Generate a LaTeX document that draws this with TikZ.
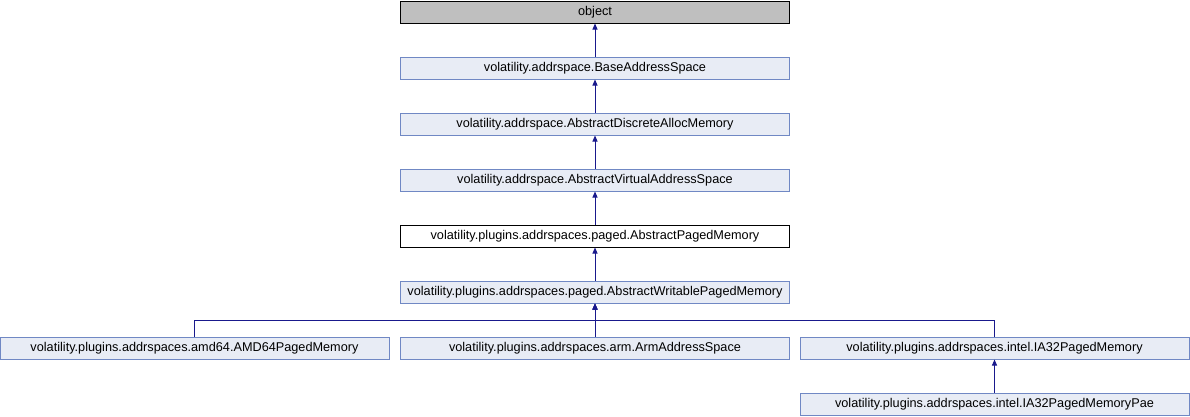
\documentclass[tikz,border=0pt]{standalone}
\usepackage{fontspec}
\setmainfont{Liberation Sans}
\usepackage{xcolor}
\usetikzlibrary{arrows.meta, positioning}

\definecolor{clsfill}{RGB}{232,236,245}
\definecolor{clsdraw}{RGB}{112,136,196}
\definecolor{objfill}{RGB}{191,191,191}
\definecolor{edgeblue}{RGB}{25,25,140}

\begin{document}
\begin{tikzpicture}[x=1pt, y=-1pt,
    cls/.style={draw=clsdraw, fill=clsfill, line width=1pt, minimum width=389pt,
        minimum height=22pt, inner sep=0pt,
        font=\fontsize{12.7}{14}\selectfont},
    rootcls/.style={cls, draw=black, fill=objfill},
    curcls/.style={cls, draw=black, fill=white},
    inh/.style={edgeblue, line width=1pt, -{Triangle[width=5pt, length=6pt]}}]

    % =================================================================
    % 1. KHUNG ẢNH
    % =================================================================
    \useasboundingbox (0,0) rectangle (1190,416);

    % =================================================================
    % 2. CÁC LỚP (NÚT)
    % =================================================================
    \node[rootcls] (object)   at (595,12)  {object};
    \node[cls]     (base)     at (595,68)  {volatility.addrspace.BaseAddressSpace};
    \node[cls]     (discrete) at (595,124) {volatility.addrspace.AbstractDiscreteAllocMemory};
    \node[cls]     (virtual)  at (595,180) {volatility.addrspace.AbstractVirtualAddressSpace};
    \node[curcls]  (paged)    at (595,236) {volatility.plugins.addrspaces.paged.AbstractPagedMemory};
    \node[cls]     (writable) at (595,292) {volatility.plugins.addrspaces.paged.AbstractWritablePagedMemory};

    \node[cls] (amd64) at (194.5,348) {volatility.plugins.addrspaces.amd64.AMD64PagedMemory};
    \node[cls] (arm)   at (595,348)   {volatility.plugins.addrspaces.arm.ArmAddressSpace};
    \node[cls] (intel) at (994.5,348) {volatility.plugins.addrspaces.intel.IA32PagedMemory};
    \node[cls] (pae)   at (994.5,404) {volatility.plugins.addrspaces.intel.IA32PagedMemoryPae};

    % =================================================================
    % 3. CÁC MŨI TÊN KẾ THỪA
    % =================================================================
    \draw[inh] (base.north) -- (object.south);
    \draw[inh] (discrete.north) -- (base.south);
    \draw[inh] (virtual.north) -- (discrete.south);
    \draw[inh] (paged.north) -- (virtual.south);
    \draw[inh] (writable.north) -- (paged.south);

    % Nhánh chung phía dưới
    \coordinate (fan) at (595,320);
    \draw[inh] (amd64.north) |- (fan) -- (writable.south);
    \draw[inh] (arm.north) -- (writable.south);
    \draw[inh] (intel.north) |- (fan) -- (writable.south);

    \draw[inh] (pae.north) -- (intel.south);

\end{tikzpicture}
\end{document}
